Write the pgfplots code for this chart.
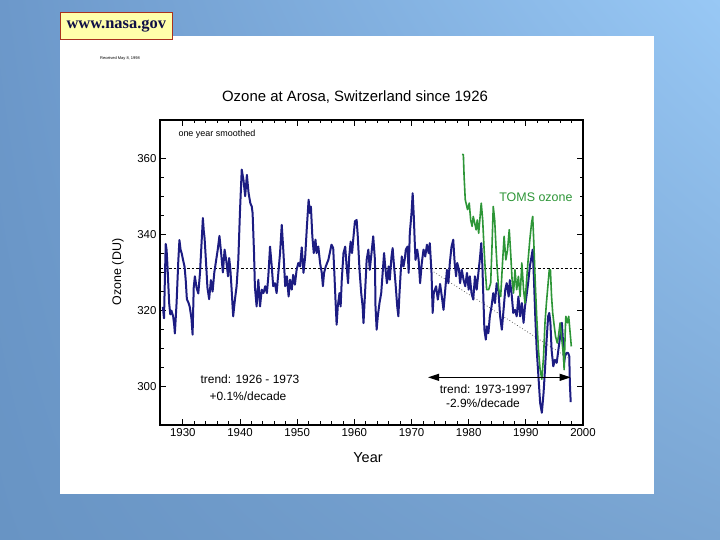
\documentclass[border=0pt]{standalone}
\usepackage{fontspec}
\setmainfont{Liberation Sans}
\newfontfamily\nasafont{Liberation Serif}
\usepackage{pgfplots}
\pgfplotsset{compat=1.18}
\usetikzlibrary{arrows.meta,shadings}

\definecolor{ozblue}{RGB}{28,28,130}
\definecolor{tomsgreen}{RGB}{45,150,55}
\definecolor{bgUL}{RGB}{108,152,202}
\definecolor{bgUR}{RGB}{152,200,245}
\definecolor{bgLL}{RGB}{104,148,196}
\definecolor{bgLR}{RGB}{122,165,210}
\definecolor{boxyellow}{RGB}{255,255,170}
\definecolor{boxred}{RGB}{170,50,30}
\definecolor{nasanavy}{RGB}{15,15,70}

\begin{document}
\begin{tikzpicture}
\useasboundingbox (0,0) rectangle (720bp,540bp);
% slide background
\shade[upper left=bgUL, upper right=bgUR, lower left=bgLL, lower right=bgLR]
  (0,0) rectangle (720bp,540bp);
\fill[white] (60bp,46bp) rectangle (654bp,504bp);
\draw[draw=boxred, fill=boxyellow, line width=0.8bp] (60bp,500.7bp) rectangle (172.7bp,527.3bp);
\node[font=\nasafont\bfseries\fontsize{16.5}{18}\selectfont, text=nasanavy] at (116.3bp,514bp) {www.nasa.gov};
\node[font=\fontsize{4}{5}\selectfont] at (120bp,482bp) {Received May 8, 1998};

% chart texts
\node[font=\fontsize{15}{17}\selectfont] at (355bp,443bp) {Ozone at Arosa, Switzerland since 1926};
\node[font=\fontsize{14.5}{16}\selectfont] at (368bp,82bp) {Year};
\node[font=\fontsize{12.5}{14}\selectfont, rotate=90] at (118bp,268bp) {Ozone (DU)};

\begin{axis}[
  at={(160bp,115bp)}, anchor=south west,
  width=423bp, height=305bp, scale only axis,
  xmin=1926, xmax=2000, ymin=290, ymax=370,
  xtick={1930,1940,...,2000}, ytick={300,320,340,360},
  minor x tick num=4, minor y tick num=3,
  tick align=inside,
  major tick length=6bp, minor tick length=3.5bp,
  axis line style={line width=1.6bp},
  tick style={black, line width=0.8bp},
  /pgf/number format/1000 sep={},
  /pgf/number format/assume math mode=true,
  ticklabel style={font=\fontsize{11.5}{13}\selectfont},
]
% long-term mean and trend
\addplot[black, line width=0.7bp, dash pattern=on 2.5bp off 2bp] coordinates {(1926,331) (2000,331)};
\addplot[black!80, line width=0.6bp, dash pattern=on 0.8bp off 2.2bp] coordinates {(1973,331) (1997.5,307.5)};

% Arosa, one year smoothed
\addplot[ozblue, line width=2bp, line join=round] coordinates {
(1926.5,321) (1926.7,318) (1926.85,328) (1927.0,337.5) (1927.15,336) (1927.3,332)
(1927.6,322) (1927.8,319) (1928.0,320) (1928.3,318.5) (1928.5,316) (1928.6,314)
(1928.9,322) (1929.2,333) (1929.4,338.5) (1929.6,336) (1929.8,335) (1930.0,333.5)
(1930.3,331.5) (1930.5,328) (1930.7,323) (1931.0,322) (1931.2,321) (1931.5,318)
(1931.7,313.7) (1931.9,326) (1932.1,329) (1932.4,326) (1932.7,324.5) (1933.0,330)
(1933.3,338.6) (1933.5,344.3) (1933.65,341) (1933.8,339) (1934.0,334) (1934.3,326)
(1934.6,323) (1934.9,328) (1935.2,325) (1935.5,330) (1935.8,333) (1936.1,336)
(1936.4,339.6) (1936.7,335) (1937.0,330) (1937.3,336) (1937.6,333) (1937.9,329)
(1938.1,333.8) (1938.3,331) (1938.5,326.3) (1938.8,318.5) (1939.1,322.8) (1939.4,326.4)
(1939.7,333.3) (1940.0,346.4) (1940.3,357) (1940.6,354.3) (1940.9,350) (1941.2,355.6)
(1941.5,350.8) (1941.8,348.2) (1942.05,347.3) (1942.2,345.6) (1942.45,335.1) (1942.6,326.3)
(1942.9,321.1) (1943.2,328.1) (1943.5,321.1) (1943.8,325.5) (1944.1,324.6) (1944.4,326.4)
(1944.7,324.6) (1944.95,329) (1945.25,336.8) (1945.55,331.6) (1945.8,326.4) (1946.1,327.2)
(1946.4,324.6) (1946.7,329.8) (1947.0,335.1) (1947.3,342.5) (1947.6,335.1) (1947.9,326.4)
(1948.2,329) (1948.5,323.7) (1948.75,328.1) (1949.05,325.5) (1949.3,329.4) (1949.6,326.8)
(1949.9,330.7) (1950.2,332.5) (1950.5,331.6) (1950.8,336.6) (1951.1,329.9) (1951.4,334.2)
(1951.7,342.1) (1952.0,349.1) (1952.2,345.6) (1952.4,347.3) (1952.65,339.5) (1952.9,335.1)
(1953.2,338.6) (1953.4,335.1) (1953.7,336.8) (1954.0,332.5) (1954.3,329.9) (1954.5,326.4)
(1954.7,329.9) (1955.0,331.6) (1955.45,333.3) (1955.7,335.1) (1956.0,337.3) (1956.3,336.4)
(1956.5,329.9) (1956.7,322.9) (1956.9,316.3) (1957.1,321.1) (1957.4,324.6) (1957.6,321.1)
(1957.8,328.1) (1958.1,335.1) (1958.4,336.8) (1958.65,331.6) (1958.9,327.2) (1959.1,334.2)
(1959.35,338.1) (1959.6,335.1) (1959.8,338.6) (1960.1,343.4) (1960.4,343.8) (1960.6,339.5)
(1960.9,330.7) (1961.2,324.6) (1961.45,321.1) (1961.6,316.7) (1961.9,325.5) (1962.15,333.3)
(1962.45,336) (1962.7,330.7) (1963.0,335.1) (1963.3,339.5) (1963.6,333.3) (1963.7,321.1)
(1963.9,315) (1964.1,318.5) (1964.4,322) (1964.7,324.6) (1964.95,329.9) (1965.2,335.1)
(1965.4,331.6) (1965.7,327.2) (1966.0,331.6) (1966.2,328.1) (1966.5,334.2) (1966.7,336.4)
(1966.9,332.5) (1967.2,327.2) (1967.5,321.1) (1967.7,318.5) (1967.9,324.6) (1968.1,329.9)
(1968.3,334.2) (1968.6,331.6) (1968.8,333.3) (1969.0,336) (1969.3,336.8) (1969.5,329.9)
(1969.7,340.3) (1970.0,345.6) (1970.2,350.8) (1970.4,344.7) (1970.55,338.6) (1970.7,333.3)
(1971.0,336) (1971.25,333.3) (1971.5,327.2) (1971.8,332.5) (1972.1,336) (1972.4,334.2)
(1972.7,337.3) (1973.0,335.1) (1973.2,337.7) (1973.5,329.9) (1973.7,319.4) (1973.9,324.6)
(1974.3,326.4) (1974.6,322.9) (1975.0,327) (1975.3,323.7) (1975.6,320.2) (1975.9,325.5)
(1976.2,330.7) (1976.45,327.2) (1976.7,332.5) (1977.0,336.8) (1977.3,338.6) (1977.55,332.5)
(1977.8,329) (1978.0,332.5) (1978.3,330.7) (1978.5,327.2) (1978.8,330.7) (1979.1,328.1)
(1979.4,326.4) (1979.7,329.9) (1980.0,325.5) (1980.2,329) (1980.5,324.6) (1980.8,322.9)
(1981.1,329) (1981.4,325.5) (1981.7,329.9) (1982.0,334.2) (1982.2,337.7) (1982.4,331.6)
(1982.6,322) (1982.75,315) (1983.0,312.4) (1983.2,315.9) (1983.45,314.1) (1983.7,318.5)
(1984.0,321.1) (1984.3,324.6) (1984.6,322) (1984.9,327.2) (1985.2,325.5) (1985.5,318.5)
(1985.8,315) (1986.1,320.2) (1986.4,325.5) (1986.65,327.2) (1987.0,323.7) (1987.2,328)
(1987.5,324.6) (1987.8,319.4) (1988.1,320.2) (1988.4,318.5) (1988.7,323.7) (1989.0,318.5)
(1989.3,322) (1989.6,316.8) (1989.85,321.1) (1990.1,323.7) (1990.4,327.2) (1990.7,331.6)
(1991.0,334.2) (1991.2,336) (1991.4,329) (1991.65,318.5) (1991.9,309.8) (1992.2,302.8)
(1992.5,295.8) (1992.8,293.2) (1993.1,298.4) (1993.35,304.5) (1993.6,311.5) (1993.9,318.5)
(1994.1,319.4) (1994.3,316.8) (1994.5,309.8) (1994.8,305.4) (1995.1,307.1) (1995.4,306.3)
(1995.7,309.8) (1996.0,313.2) (1996.3,316.8) (1996.45,313.2) (1996.7,306.3) (1996.85,308)
(1997.1,308.9) (1997.4,308.9) (1997.6,308) (1997.7,301) (1997.85,296)
};

% TOMS satellite
\addplot[tomsgreen, line width=1.6bp, line join=round] coordinates {
(1978.85,361) (1979.07,360.9) (1979.2,355.2) (1979.4,349.1) (1979.8,346.5) (1980.1,348.2)
(1980.35,343.8) (1980.6,342.1) (1980.8,344.7) (1981.05,343) (1981.3,341.2) (1981.5,343.8)
(1981.75,340.3) (1982.0,344.7) (1982.2,348.2) (1982.45,343.8) (1982.7,336) (1982.9,330.7)
(1983.15,325.5) (1983.5,325.5) (1983.85,327.2) (1984.1,337.7) (1984.3,347.3) (1984.55,343.8)
(1984.8,336) (1985.0,330.7) (1985.25,325.5) (1985.6,323.7) (1985.95,333.3) (1986.2,339.5)
(1986.5,333.3) (1986.8,336) (1987.1,341.2) (1987.35,335) (1987.6,328) (1987.85,324.6)
(1988.1,330.7) (1988.4,325.5) (1988.7,329) (1989.0,323.7) (1989.3,332.5) (1989.6,325.5)
(1989.85,322) (1990.1,327.2) (1990.4,333.3) (1990.7,338.6) (1991.0,343) (1991.2,344.7)
(1991.4,337.7) (1991.65,327.2) (1991.9,318.5) (1992.2,309.8) (1992.5,304.5) (1992.8,302)
(1993.1,308) (1993.35,316.8) (1993.6,322) (1993.9,327.2) (1994.1,330.7) (1994.3,330.7)
(1994.5,323.7) (1994.7,319.4) (1994.9,316.8) (1995.2,313.2) (1995.5,311.5) (1995.7,313.2)
(1996.0,316.8) (1996.3,312.4) (1996.6,308) (1996.7,304.5) (1996.9,315) (1997.0,318.5)
(1997.3,316.8) (1997.5,318.5) (1997.7,315) (1997.96,310.6)
};

% trend arrow
\addplot[black, line width=1bp, {Triangle[length=11bp,width=7bp]}-{Triangle[length=11bp,width=7bp]}]
  coordinates {(1972.9,302.5) (1997.85,302.5)};
\end{axis}

\node[font=\fontsize{9}{10}\selectfont, anchor=west] at (175bp,406bp) {one year smoothed};
\node[font=\fontsize{12.5}{14}\selectfont, anchor=east, text=tomsgreen] at (576bp,343bp) {TOMS ozone};
\node[font=\fontsize{12}{14}\selectfont] at (250bp,161bp) {trend: 1926 - 1973};
\node[font=\fontsize{12}{14}\selectfont] at (248bp,144bp) {+0.1\%/decade};
\node[font=\fontsize{12}{14}\selectfont] at (486bp,151bp) {trend: 1973-1997};
\node[font=\fontsize{12}{14}\selectfont] at (483bp,137bp) {-2.9\%/decade};
\end{tikzpicture}
\end{document}
